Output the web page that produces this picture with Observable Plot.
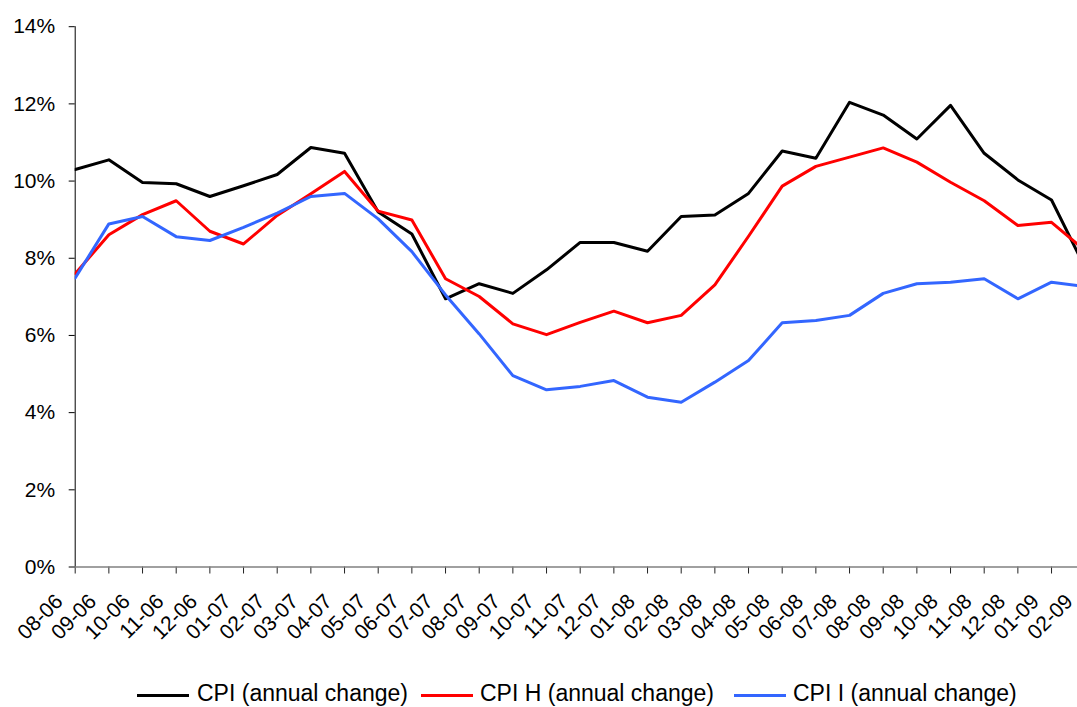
<!DOCTYPE html>
<html>
<head>
<meta charset="utf-8">
<script src="https://cdn.jsdelivr.net/npm/d3@7"></script>
<script src="https://cdn.jsdelivr.net/npm/@observablehq/plot@0.6"></script>
<style>
  html, body { margin: 0; padding: 0; background: #fff; overflow: hidden; }
  #wrap { position: relative; width: 1077px; height: 707px; font-family: "Liberation Sans", Arial, sans-serif; }
  .item { position: absolute; top: 682px; height: 23px; display: flex; align-items: center; font-size: 23px; line-height: 23px; color: #000; white-space: nowrap; }
  .sw { position: absolute; top: 694px; height: 3px; width: 52px; }
</style>
</head>
<body>
<div id="wrap"></div>
<script>
const months = ["08-06","09-06","10-06","11-06","12-06","01-07","02-07","03-07","04-07","05-07","06-07","07-07","08-07","09-07","10-07","11-07","12-07","01-08","02-08","03-08","04-08","05-08","06-08","07-08","08-08","09-08","10-08","11-08","12-08","01-09","02-09"];
const cpi  = [10.30,10.55,9.96,9.93,9.60,9.88,10.17,10.87,10.72,9.20,8.63,6.95,7.34,7.09,7.70,8.41,8.41,8.18,9.08,9.12,9.68,10.78,10.59,12.04,11.71,11.09,11.96,10.72,10.03,9.51,7.75];
const cpiH = [7.60,8.61,9.13,9.49,8.70,8.37,9.11,9.67,10.25,9.22,8.99,7.47,7.01,6.30,6.02,6.34,6.63,6.33,6.52,7.31,8.57,9.87,10.38,10.62,10.86,10.49,9.97,9.49,8.85,8.93,8.20];
const cpiI = [7.49,8.89,9.08,8.56,8.46,8.80,9.17,9.60,9.68,9.02,8.17,7.05,6.04,4.96,4.59,4.68,4.83,4.40,4.27,4.79,5.35,6.33,6.39,6.52,7.09,7.34,7.38,7.47,6.95,7.38,7.27];
const seriesNames = ["CPI (annual change)", "CPI H (annual change)", "CPI I (annual change)"];
const seriesColors = ["#000000", "#ff0000", "#3366ff"];
const yTicks = [0, 2, 4, 6, 8, 10, 12, 14];

const seriesValues = [cpi, cpiH, cpiI];
const rows = [];
seriesValues.forEach((vals, s) => vals.forEach((v, i) => rows.push({idx: i, month: months[i], value: v, series: seriesNames[s]})));
const idxs = months.map((m, i) => i);

const W = 1077, H = 660;
const chart = Plot.plot({
  width: W,
  height: H,
  marginTop: 26.2,
  marginBottom: H - 566.5,
  marginLeft: 74.7,
  marginRight: 0,
  style: {fontFamily: "'Liberation Sans', Arial, sans-serif", fontSize: "21px", color: "#000", background: "#fff"},
  x: {type: "linear", domain: [0, months.length - 1], range: [74.7, 1084.7]},
  y: {domain: [0, 14], label: null},
  marks: [
    Plot.axisY({ticks: yTicks, tickFormat: d => d + "%", tickSize: 6, tickPadding: 14, fontSize: 21, label: null, stroke: "#000"}),
    Plot.frame({anchor: "left", stroke: "#000", strokeWidth: 1}),
    Plot.axisX({ticks: idxs, tickSize: 7, tickFormat: () => "", label: null, stroke: "#222"}),
    Plot.frame({anchor: "bottom", stroke: "#808080", strokeWidth: 1.5}),
    Plot.text(idxs, {x: d => d, text: d => months[d], frameAnchor: "bottom", dy: 31, dx: -16, rotate: -45, textAnchor: "end", lineAnchor: "middle", fontSize: 21, fill: "#000"}),
    ...seriesNames.map((name, s) => Plot.line(rows.filter(r => r.series === name), {x: "idx", y: "value", stroke: seriesColors[s], strokeWidth: 3, clip: "frame"}))
  ]
});
const wrap = document.getElementById("wrap");
wrap.appendChild(chart);

const legendPos = [[137, 197], [421, 480], [734, 793]];
seriesNames.forEach((name, s) => {
  const sw = document.createElement("div");
  sw.className = "sw";
  sw.style.left = legendPos[s][0] + "px";
  sw.style.background = seriesColors[s];
  wrap.appendChild(sw);
  const t = document.createElement("div");
  t.className = "item";
  t.style.left = legendPos[s][1] + "px";
  t.textContent = name;
  wrap.appendChild(t);
});
</script>
</body>
</html>
